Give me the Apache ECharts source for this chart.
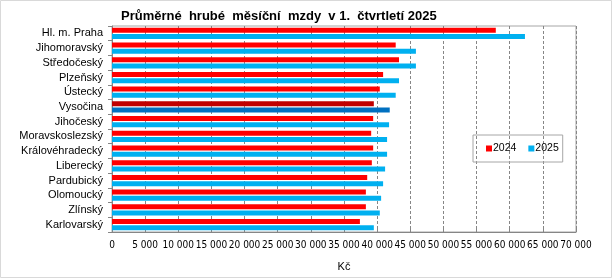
<!DOCTYPE html>
<html><head><meta charset="utf-8">
<script src="https://cdn.jsdelivr.net/npm/echarts@6/dist/echarts.min.js"></script>
<style>html,body{margin:0;padding:0;background:#fff}#c{width:612px;height:278px}</style>
</head><body><div id="c"></div>
<script>
const categories = ["Hl. m. Praha","Jihomoravský","Středočeský","Plzeňský","Ústecký","Vysočina","Jihočeský","Moravskoslezský","Královéhradecký","Liberecký","Pardubický","Olomoucký","Zlínský","Karlovarský"];
const values2024 = [57900,42800,43300,40900,40400,39500,39400,39100,39400,39200,38500,38300,38300,37400];
const values2025 = [62300,45850,45850,43300,42800,41900,41800,41500,41500,41200,40900,40600,40400,39500];
const highlight = "Vysočina";
const seriesNames = ["2024","2025"];

const fmt = v => String(v).replace(/\B(?=(\d{3})+(?!\d))/g, ' ');
const mk = (vals, hcolor) => vals.map((v,i) => categories[i] === highlight ? {value:v, itemStyle:{color:hcolor}} : v);

const chart = echarts.init(document.getElementById('c'), null, {renderer:'canvas'});
chart.setOption({
  animation:false,
  textStyle:{fontFamily:'"Liberation Sans", Arial, sans-serif'},
  title:{text:'Průměrné  hrubé  měsíční  mzdy  v 1.  čtvrtletí 2025', left:116, top:5,
    textStyle:{fontSize:13, fontWeight:'bold', color:'#000', fontFamily:'"Liberation Sans", Arial, sans-serif'}},
  graphic:[{type:'rect', shape:{x:0.5,y:0.5,width:611,height:277}, style:{fill:null, stroke:'#d9d9d9', lineWidth:1}, silent:true}],
  legend:{data:seriesNames, left:473, top:135, orient:'horizontal', icon:'rect', itemWidth:6, itemHeight:6, itemGap:12,
    borderColor:'#a6a6a6', borderWidth:1, padding:[8,4,8,13],
    textStyle:{fontSize:10.5, color:'#000', padding:[0,0,0,-4]}},
  grid:{left:112, right:36, top:26, bottom:46, show:true, borderColor:'#a6a6a6', borderWidth:1, containLabel:false},
  xAxis:{type:'value', min:0, max:70000, interval:5000,
    axisLine:{show:true, lineStyle:{color:'#868686'}},
    axisTick:{show:true, inside:true, length:4, lineStyle:{color:'#868686'}},
    splitLine:{show:true, lineStyle:{color:'#868686', type:[3,2]}},
    axisLabel:{formatter:v=>fmt(v), fontSize:10, color:'#000', margin:8,
      fontFamily:'"Liberation Sans Narrow", "DejaVu Sans Condensed", Arial, sans-serif'},
    name:'Kč', nameLocation:'middle', nameGap:29, nameTextStyle:{fontSize:11, color:'#000'}},
  yAxis:{type:'category', data:categories, inverse:true,
    axisLine:{show:true, lineStyle:{color:'#868686'}},
    axisTick:{show:true, length:4, lineStyle:{color:'#868686'}},
    axisLabel:{fontSize:11, color:'#000', margin:9}},
  series:[
    {name:seriesNames[0], type:'bar', data:mk(values2024,'#c00000'), itemStyle:{color:'#ff0000'}, barWidth:5, barGap:'25%', barCategoryGap:'25%'},
    {name:seriesNames[1], type:'bar', data:mk(values2025,'#0070c0'), itemStyle:{color:'#00b0f0'}, barWidth:5, barGap:'25%'}
  ]
});
</script></body></html>
